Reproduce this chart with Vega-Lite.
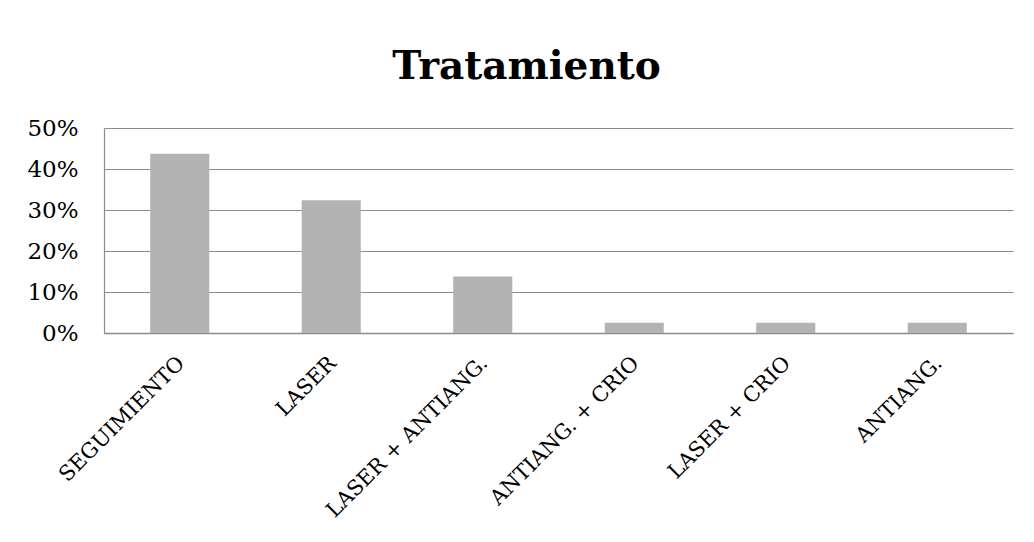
{
  "$schema": "https://vega.github.io/schema/vega-lite/v6.json",
  "width": 909,
  "height": 205,
  "autosize": {"type": "none"},
  "padding": {"left": 104, "top": 128, "right": 21, "bottom": 209},
  "background": "white",
  "title": {
    "text": "Tratamiento",
    "font": "DejaVu Serif",
    "fontSize": 39,
    "fontWeight": "bold",
    "color": "black",
    "anchor": "middle",
    "frame": "group",
    "baseline": "alphabetic",
    "offset": -1,
    "dx": -32
  },
  "data": {
    "values": [
      {"tratamiento": "SEGUIMIENTO", "pct": 0.437},
      {"tratamiento": "LASER", "pct": 0.324},
      {"tratamiento": "LASER + ANTIANG.", "pct": 0.138},
      {"tratamiento": "ANTIANG. + CRIO", "pct": 0.025},
      {"tratamiento": "LASER + CRIO", "pct": 0.025},
      {"tratamiento": "ANTIANG.", "pct": 0.025}
    ]
  },
  "mark": {"type": "bar", "color": "#b3b3b3"},
  "encoding": {
    "x": {
      "field": "tratamiento",
      "type": "nominal",
      "sort": null,
      "scale": {"paddingInner": 0.61, "paddingOuter": 0.305},
      "axis": {
        "title": null,
        "labelAngle": -45,
        "labelFont": "DejaVu Serif",
        "labelFontSize": 21,
        "labelColor": "black",
        "labelPadding": 19,
        "labelOffset": -6,
        "labelLimit": 0,
        "ticks": false,
        "domainColor": "#8c8c8c",
        "domainWidth": 1.5
      }
    },
    "y": {
      "field": "pct",
      "type": "quantitative",
      "scale": {"domain": [0, 0.5]},
      "axis": {
        "title": null,
        "values": [0, 0.1, 0.2, 0.3, 0.4, 0.5],
        "format": ".0%",
        "labelFont": "DejaVu Serif",
        "labelFontSize": 23,
        "labelColor": "black",
        "labelPadding": 26,
        "ticks": false,
        "domainColor": "#8c8c8c",
        "domainWidth": 1.2,
        "gridColor": "#8c8c8c",
        "gridWidth": 1.2
      }
    }
  },
  "config": {"view": {"stroke": null}}
}
